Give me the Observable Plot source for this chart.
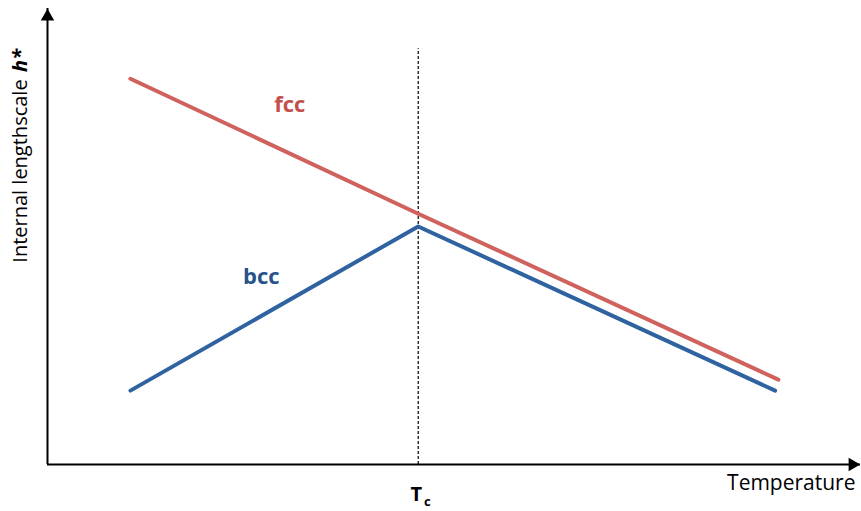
<!DOCTYPE html>
<html>
<head>
<meta charset="utf-8">
<script src="https://cdn.jsdelivr.net/npm/d3@7"></script>
<script src="https://cdn.jsdelivr.net/npm/@observablehq/plot@0.6"></script>
<style>
  html, body { margin: 0; padding: 0; background: #fff; }
  svg { display: block; font-family: "Open Sans", Lato, sans-serif; }
</style>
</head>
<body>
<div id="chart"></div>
<script>
// Schematic data (arbitrary units, x: temperature 0–100, y: h* 0–100)
const fccX = [10.2, 45.6, 89.9];
const fccY = [84.6, 55.0, 18.6];
const bccX = [10.2, 45.6, 89.5];
const bccY = [16.2, 52.2, 16.2];
const Tc = 45.6;
const tcLineTop = 91.2;
const seriesLabels = ["fcc", "bcc"];
const labelX = [29.8, 26.3];
const labelY = [78.9, 41.2];
const xTitle = "Temperature";
const yTitleMain = "Internal lengthscale ";
const yTitleSym = "h*";

const colors = {fcc: "#d0625e", bcc: "#2e62a0"};
const textColors = {fcc: "#c4504c", bcc: "#28538a"};

const fcc = fccX.map((x, i) => ({x, y: fccY[i], s: "fcc"}));
const bcc = bccX.map((x, i) => ({x, y: bccY[i], s: "bcc"}));
const labels = seriesLabels.map((s, i) => ({s, x: labelX[i], y: labelY[i]}));

const chart = Plot.plot({
  width: 861,
  height: 511,
  marginLeft: 47,
  marginRight: 1,
  marginTop: 8,
  marginBottom: 47,
  x: {domain: [0, 100], axis: null},
  y: {domain: [0, 100], axis: null},
  marks: [
    // axes
    Plot.ruleX([0], {y1: 0, y2: 100, stroke: "black", strokeWidth: 2}),
    Plot.ruleY([0], {x1: 0, x2: 100, stroke: "black", strokeWidth: 2}),
    Plot.dot([{x: 0, y: 100}], {x: "x", y: "y", symbol: "triangle", r: 5, fill: "black", stroke: null, dy: 8}),
    Plot.dot([{x: 100, y: 0}], {x: "x", y: "y", symbol: "triangle", r: 5, fill: "black", stroke: null, rotate: 90, dx: -8}),
    // Tc dashed line
    Plot.ruleX([Tc], {y1: 0, y2: tcLineTop, stroke: "black", strokeWidth: 1.2, strokeDasharray: "3,2"}),
    // series
    Plot.line(fcc, {x: "x", y: "y", stroke: colors.fcc, strokeWidth: 4}),
    Plot.line(bcc, {x: "x", y: "y", stroke: colors.bcc, strokeWidth: 4}),
    Plot.text(labels, {x: "x", y: "y", text: "s", fill: d => textColors[d.s], fontSize: 22, fontWeight: "bold"}),
    // axis titles
    Plot.text([xTitle], {x: 100, y: 0, text: d => d, textAnchor: "end", dx: -5, dy: 19, fontSize: 21, fill: "black"}),
    Plot.text(["T"], {x: Tc, y: 0, text: d => d, dx: -2, dy: 30, fontSize: 20, fontWeight: "bold", fill: "black"}),
    Plot.text(["c"], {x: Tc, y: 0, text: d => d, dx: 9, dy: 37, fontSize: 13, fontWeight: "bold", fill: "black"}),
    Plot.text([yTitleMain], {x: 0, y: 85.6, text: d => d, rotate: -90, textAnchor: "end", dx: -27, fontSize: 20, fill: "black"}),
    Plot.text([yTitleSym], {x: 0, y: 86.1, text: d => d, rotate: -90, textAnchor: "start", dx: -27, fontSize: 20, fontWeight: "bold", fontStyle: "italic", fill: "black"})
  ]
});
document.getElementById("chart").append(chart);
</script>
</body>
</html>
